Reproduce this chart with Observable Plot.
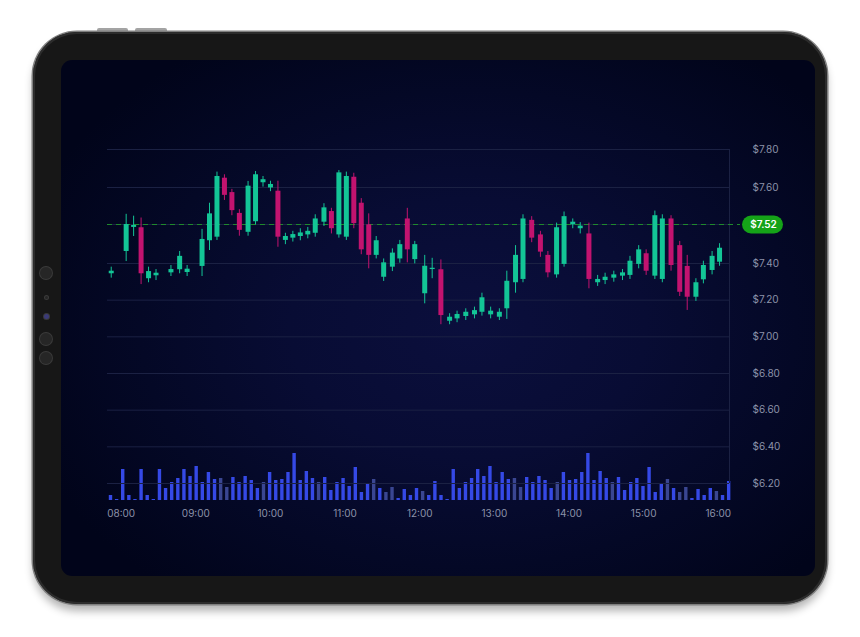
<!DOCTYPE html>
<html>
<head>
<meta charset="utf-8">
<script src="https://cdn.jsdelivr.net/npm/d3@7"></script>
<script src="https://cdn.jsdelivr.net/npm/@observablehq/plot@0.6"></script>
<style>
  html, body { margin: 0; padding: 0; background: #ffffff; width: 860px; height: 637px; overflow: hidden; }
  #device { position: absolute; left: 33px; top: 32px; width: 794px; height: 572px; border-radius: 44px;
    background: #171717; box-shadow: 0 0 0 1.5px #7f7f7f, inset 0 0 0 2px #2c2c2c, 0 7px 9px rgba(0,0,0,0.30); }
  #screen { position: absolute; left: 61px; top: 60px; width: 754px; height: 516px; border-radius: 11px; overflow: hidden;
    background: radial-gradient(ellipse 62% 66% at 54% 52%, #0b0f3d 0%, #080c34 38%, #040826 70%, #01041a 100%); }
  .btn { position: absolute; top: 28px; height: 5px; background: #a3a3a3; border-radius: 2px 2px 0 0; }
  .cam { position: absolute; border-radius: 50%; background: #262626; box-shadow: 0 0 0 1px #3a3a3a; }
  #chart, #volume { position: absolute; left: 0; top: 0; }
</style>
</head>
<body>
<div class="btn" style="left:97px;width:31px"></div>
<div class="btn" style="left:135px;width:32px"></div>
<div id="device"></div>
<div class="cam" style="left:40px;top:267px;width:12px;height:12px"></div>
<div class="cam" style="left:45px;top:296px;width:3px;height:3px"></div>
<div class="cam" style="left:44px;top:314px;width:5px;height:5px;background:#3b3b78"></div>
<div class="cam" style="left:40px;top:333px;width:12px;height:12px"></div>
<div class="cam" style="left:40px;top:352px;width:12px;height:12px"></div>
<div id="screen"></div>
<div id="volume"></div>
<div id="chart"></div>
<script>
// ---------- data ----------
const candleTimes = ["07:52","08:04","08:10","08:16","08:22","08:28","08:40","08:47","08:53","09:05","09:11","09:17","09:23","09:29","09:35","09:42","09:48","09:54","10:00","10:06","10:12","10:18","10:24","10:30","10:36","10:43","10:49","10:55","11:01","11:07","11:13","11:19","11:25","11:31","11:38","11:44","11:50","11:56","12:04","12:10","12:17","12:24","12:30","12:37","12:44","12:50","12:57","13:04","13:10","13:17","13:23","13:30","13:37","13:43","13:50","13:56","14:03","14:09","14:16","14:23","14:29","14:36","14:43","14:49","14:56","15:02","15:09","15:15","15:22","15:29","15:35","15:42","15:48","15:55","16:01"];
const opens  = [7.344,7.437,7.511,7.510,7.317,7.333,7.349,7.366,7.351,7.384,7.470,7.481,7.649,7.589,7.544,7.496,7.526,7.625,7.599,7.592,7.471,7.478,7.483,7.488,7.493,7.525,7.548,7.488,7.481,7.654,7.566,7.519,7.425,7.325,7.380,7.414,7.532,7.412,7.235,7.367,7.366,7.085,7.098,7.111,7.120,7.134,7.120,7.107,7.153,7.295,7.313,7.529,7.488,7.425,7.338,7.395,7.519,7.507,7.491,7.295,7.307,7.320,7.331,7.335,7.395,7.430,7.331,7.313,7.532,7.455,7.384,7.216,7.311,7.362,7.404];
const highs  = [7.380,7.542,7.538,7.534,7.380,7.367,7.389,7.437,7.389,7.505,7.566,7.681,7.667,7.596,7.552,7.632,7.684,7.658,7.633,7.633,7.493,7.499,7.507,7.511,7.541,7.565,7.555,7.689,7.681,7.675,7.576,7.543,7.483,7.414,7.445,7.471,7.555,7.468,7.425,7.416,7.411,7.126,7.140,7.153,7.162,7.238,7.162,7.153,7.358,7.455,7.541,7.537,7.499,7.437,7.523,7.547,7.532,7.524,7.523,7.335,7.347,7.358,7.367,7.422,7.455,7.442,7.549,7.541,7.539,7.468,7.425,7.317,7.407,7.437,7.461];
const lows   = [7.320,7.406,7.483,7.285,7.295,7.307,7.329,7.344,7.329,7.329,7.440,7.471,7.572,7.539,7.484,7.484,7.519,7.602,7.591,7.450,7.458,7.466,7.470,7.476,7.481,7.514,7.491,7.478,7.471,7.507,7.427,7.371,7.414,7.302,7.356,7.401,7.402,7.398,7.180,7.317,7.066,7.066,7.077,7.089,7.098,7.113,7.098,7.089,7.095,7.238,7.295,7.464,7.419,7.322,7.320,7.380,7.507,7.491,7.262,7.275,7.285,7.298,7.307,7.313,7.371,7.335,7.313,7.295,7.358,7.220,7.144,7.193,7.289,7.338,7.385];
const closes = [7.358,7.520,7.517,7.344,7.356,7.347,7.367,7.422,7.369,7.474,7.543,7.658,7.583,7.550,7.502,7.607,7.667,7.641,7.616,7.481,7.483,7.489,7.494,7.499,7.532,7.556,7.507,7.677,7.658,7.522,7.442,7.425,7.470,7.402,7.432,7.458,7.442,7.458,7.385,7.374,7.116,7.107,7.122,7.134,7.143,7.213,7.140,7.134,7.303,7.425,7.532,7.478,7.435,7.349,7.510,7.537,7.525,7.515,7.313,7.313,7.325,7.338,7.349,7.407,7.442,7.358,7.539,7.532,7.389,7.243,7.216,7.295,7.389,7.422,7.447];

// volume, thousands of shares, one bar every ~4.9 minutes from 07:51
const volumes = [5,1,31,5,1,31,5,1,31,12,18,22,31,24,34,18,28,21,22,13,23,18,24,20,12,18,28,20,21,28,47,20,29,22,18,23,10,18,22,14,33,8,16,21,12,8,13,2,11,5,12,9,5,
                 19,5,1,31,12,18,22,31,24,34,18,28,21,22,13,23,18,24,20,12,18,28,20,21,28,47,20,29,22,18,23,10,18,22,14,33,8,16,21,12,8,13,2,11,5,12,9,5,19];
const volumeMuted = [18,19,25,34,43,45,46,51,66,67,73,82,91,93,94,99];
const volumeStartMin = 471.4;   // 07:51.4
const volumeStepMin = 4.92;

const lastPrice = 7.52;
const priceLabels = [7.80, 7.60, 7.40, 7.20, 7.00, 6.80, 6.60, 6.40, 6.20];
const priceGrid = [7.80, 7.60, 7.52, 7.40, 7.20, 7.00, 6.80, 6.60, 6.40, 6.20];
const timeTicks = ["08:00","09:00","10:00","11:00","12:00","13:00","14:00","15:00","16:00"];
const timeWindow = ["07:49","16:09"];

// ---------- build ----------
const hrs = s => { const [h, m] = s.split(":").map(Number); return h + m / 60; };
const candles = candleTimes.map((t, i) => ({t: hrs(t), open: opens[i], high: highs[i], low: lows[i], close: closes[i]}));
const up = candles.filter(d => d.close >= d.open);
const down = candles.filter(d => d.close < d.open);
const vols = volumes.map((v, i) => ({t: (volumeStartMin + i * volumeStepMin) / 60, v, muted: volumeMuted.includes(i)}));

const GREEN = "#13c596", RED = "#c2136f", GRID = "#1b2143", LABEL = "#8c92a9";
const FONT = "Inter, 'Open Sans', sans-serif";
const common = {
  width: 860, height: 637,
  marginLeft: 107, marginRight: 131, marginTop: 149, marginBottom: 154,
  style: {background: "transparent", fontFamily: FONT, fontSize: "10px", overflow: "visible"},
  x: {domain: timeWindow.map(hrs), axis: null}
};

const chart = Plot.plot({
  ...common,
  y: {type: "linear", domain: [6.20, 7.40, 7.52, 7.60, 7.80], range: [483, 263, 224, 187, 149], axis: null},
  marks: [
    Plot.ruleY(priceGrid, {stroke: GRID, strokeWidth: 1}),
    Plot.ruleX([hrs(timeWindow[1])], {y1: 6.20, y2: 7.80, stroke: GRID}),
    Plot.ruleY([lastPrice], {stroke: "#1f8a2c", strokeDasharray: "5,4", insetRight: -11}),
    Plot.ruleX(up, {x: "t", y1: "low", y2: "high", stroke: GREEN, strokeWidth: 1}),
    Plot.ruleX(down, {x: "t", y1: "low", y2: "high", stroke: RED, strokeWidth: 1}),
    Plot.ruleX(up, {x: "t", y1: "open", y2: "close", stroke: GREEN, strokeWidth: 5}),
    Plot.ruleX(down, {x: "t", y1: "open", y2: "close", stroke: RED, strokeWidth: 5}),
    Plot.ruleY([lastPrice], {stroke: "#15a318", strokeWidth: 18, strokeLinecap: "round", insetLeft: 644, insetRight: -45}),
    Plot.text([lastPrice], {y: d => d, text: d => "$" + d.toFixed(2), frameAnchor: "right", dx: 34, textAnchor: "middle", fill: "#ffffff", fontWeight: 600, fontSize: 10}),
    Plot.text(priceLabels, {y: d => d, text: d => "$" + d.toFixed(2), frameAnchor: "right", dx: 23, textAnchor: "start", fill: LABEL, fontSize: 10}),
    Plot.text(timeTicks, {x: d => hrs(d), text: d => d, frameAnchor: "bottom", lineAnchor: "middle", dy: 30, fill: LABEL, fontSize: 10})
  ]
});
document.getElementById("chart").appendChild(chart);

const volume = Plot.plot({
  ...common,
  y: {domain: [0, 50], range: [500, 450], axis: null},
  marks: [
    Plot.ruleX(vols.filter(d => !d.muted), {x: "t", y1: 0, y2: "v", stroke: "#3549e6", strokeWidth: 3.4}),
    Plot.ruleX(vols.filter(d => d.muted), {x: "t", y1: 0, y2: "v", stroke: "#3a4692", strokeWidth: 3.4})
  ]
});
document.getElementById("volume").appendChild(volume);
</script>
</body>
</html>
